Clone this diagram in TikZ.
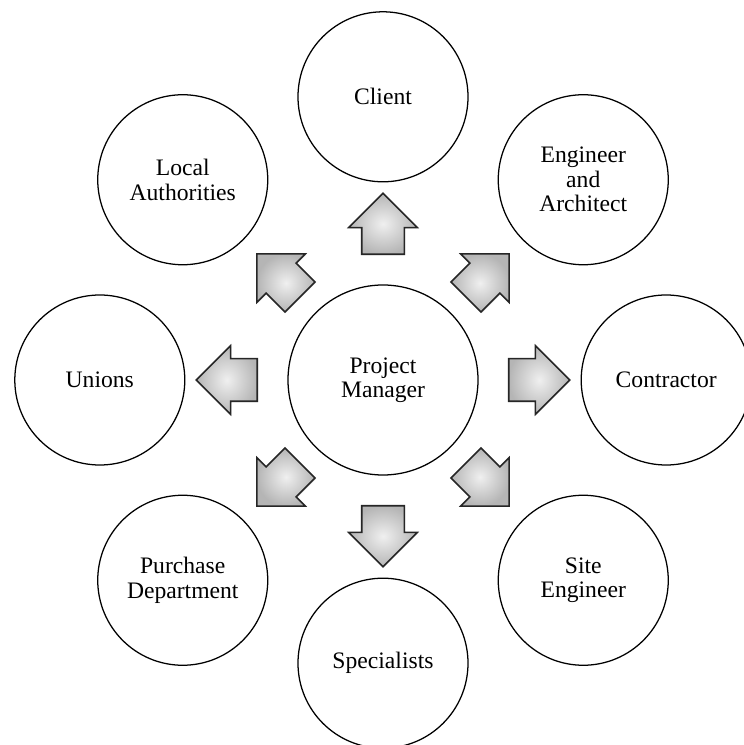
\documentclass[tikz,border=0pt]{standalone}
\usepackage{fontspec}
\setmainfont{Liberation Serif}
\usetikzlibrary{shapes.arrows,shadows}

\newcommand{\labelsize}{\fontsize{16.8}{17.4}\selectfont}

\begin{document}
\begin{tikzpicture}[
    ring/.style={circle, draw, line width=0.9pt, minimum size=4.25cm, inner sep=0pt, align=center, font=\labelsize, fill=white},
    hub/.style={ring, minimum size=4.75cm},
    blockarrow/.style={single arrow, draw=black!85, line width=1.1pt, inner color=gray!12, outer color=gray!58,
        minimum height=1.525cm, inner xsep=0pt, inner ysep=0.5125cm, single arrow head extend=0.325cm,
        drop shadow={opacity=0.25, shadow xshift=0.6pt, shadow yshift=-0.6pt}}
]
    \useasboundingbox (-9.575,-9.125) rectangle (9.0,9.5);

    % Centre
    \node[hub] (pm) at (0, 0) {Project\\Manager};

    % Parties around the project manager
    \node[ring] (client) at ([shift={(90:7.08)}]pm) {Client};
    \node[ring] (eng) at ([shift={(45:7.08)}]pm) {Engineer\\and\\Architect};
    \node[ring] (contr) at ([shift={(0:7.08)}]pm) {Contractor};
    \node[ring] (site) at ([shift={(-45:7.08)}]pm) {Site\\Engineer};
    \node[ring] (spec) at ([shift={(-90:7.08)}]pm) {Specialists};
    \node[ring] (purch) at ([shift={(-135:7.08)}]pm) {Purchase\\Department};
    \node[ring] (unions) at ([shift={(180:7.08)}]pm) {Unions};
    \node[ring] (local) at ([shift={(135:7.08)}]pm) {Local\\Authorities};

    % Block arrows
    \foreach \ang/\dist/\nm in {90/3.64/client, 45/3.43/eng, 0/3.64/contr, -45/3.43/site,
                                -90/3.64/spec, -135/3.43/purch, 180/3.64/unions, 135/3.43/local}
        \node[blockarrow, rotate=\ang] (to-\nm) at ([shift={(\ang:\dist)}]pm) {};
\end{tikzpicture}
\end{document}
